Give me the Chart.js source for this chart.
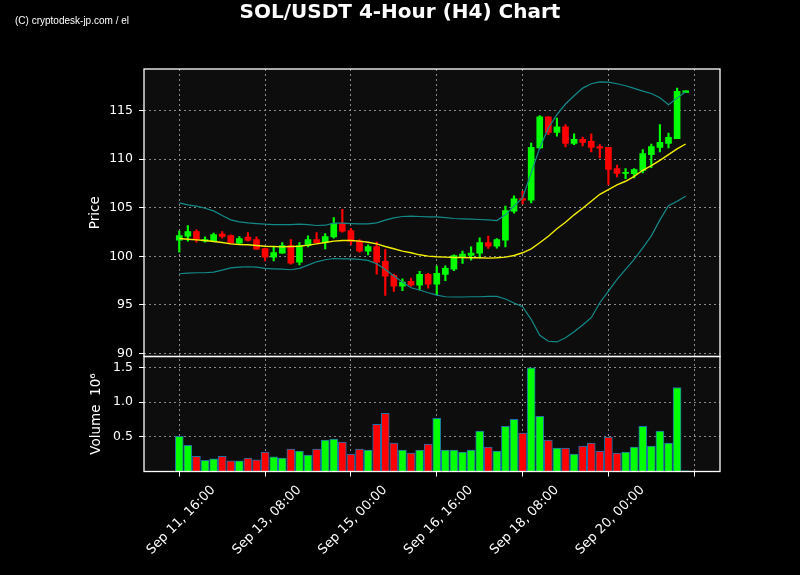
<!DOCTYPE html>
<html>
<head>
<meta charset="utf-8">
<title>SOL/USDT 4-Hour (H4) Chart</title>
<script src="https://cdn.jsdelivr.net/npm/chart.js@4.4.0/dist/chart.umd.min.js"></script>
<style>
  body { margin: 0; background: #000; }
  #wrap { position: relative; width: 800px; height: 575px; }
  #title { position: absolute; left: 0; top: 0; width: 800px; text-align: center; font: bold 20px "DejaVu Sans", sans-serif; color: #fff; line-height: 23px; }
  #mark { position: absolute; left: 15px; top: 14px; font: 11.5px "Liberation Sans Narrow", "Liberation Sans", sans-serif; color: #fff; transform: scaleX(0.87); transform-origin: left top; }
</style>
</head>
<body>
<div id="wrap">
  <canvas id="chart" width="800" height="575"></canvas>
  <div id="title">SOL/USDT 4-Hour (H4) Chart</div>
  <div id="mark">(C) cryptodesk-jp.com / el</div>
</div>
<script>
// 4h candles, Sep 11 16:00 -> Sep 21 12:00 (index 0..59)
const open = [101.66, 102.07, 102.55, 101.56, 101.59, 102.28, 102.14, 101.35, 101.97, 101.73,
  100.80, 99.91, 100.32, 101.11, 99.40, 101.08, 101.73, 101.39, 102.00, 103.37,
  102.65, 101.56, 100.53, 101.01, 99.47, 98.03, 96.93, 97.41, 97.03, 98.13,
  97.13, 98.13, 98.68, 99.98, 100.08, 100.32, 101.42, 101.04, 101.66, 104.64,
  105.95, 105.78, 111.16, 114.38, 112.77, 113.35, 111.64, 112.05, 111.85, 111.30,
  111.23, 109.03, 108.55, 108.52, 108.86, 110.47, 111.23, 111.64, 112.12, 116.89];
const close = [102.14, 102.55, 101.73, 101.73, 102.24, 102.04, 101.35, 101.83, 101.63, 100.73,
  99.91, 100.39, 101.11, 99.29, 101.11, 101.73, 101.39, 102.04, 103.37, 102.59,
  101.56, 100.53, 101.01, 99.40, 97.96, 96.93, 97.34, 97.03, 98.13, 97.13,
  98.23, 98.75, 100.08, 100.22, 100.32, 101.42, 101.04, 101.73, 104.71, 105.91,
  105.78, 111.23, 114.38, 112.77, 113.35, 111.64, 112.05, 111.74, 111.23, 111.13,
  108.96, 108.55, 108.66, 108.93, 110.58, 111.30, 111.74, 112.26, 116.99, 117.06];
const high = [102.59, 103.17, 102.72, 102.00, 102.38, 102.55, 102.21, 102.04, 102.45, 102.00,
  100.84, 100.94, 101.42, 101.73, 101.42, 102.11, 102.45, 102.35, 103.99, 104.85,
  102.89, 101.73, 101.18, 101.45, 100.70, 98.16, 97.68, 97.75, 98.44, 98.23,
  98.99, 99.02, 100.15, 100.53, 100.97, 101.90, 102.07, 101.83, 105.16, 106.22,
  106.70, 111.67, 114.49, 114.38, 114.25, 113.56, 112.63, 112.29, 112.63, 111.50,
  111.23, 109.41, 109.03, 109.03, 110.99, 111.57, 113.56, 112.70, 117.33, 117.06];
const low = [100.43, 101.56, 101.45, 101.45, 101.52, 101.87, 101.28, 101.28, 101.56, 100.70,
  99.53, 99.53, 100.29, 99.19, 99.12, 100.97, 101.32, 100.77, 101.87, 102.48,
  101.18, 100.43, 100.15, 98.16, 95.97, 96.38, 96.45, 96.93, 96.52, 96.72,
  96.04, 97.48, 98.51, 99.26, 99.60, 99.81, 100.80, 100.84, 100.97, 104.44,
  105.40, 105.50, 111.10, 112.53, 112.39, 111.26, 111.50, 111.37, 110.75, 110.13,
  107.39, 108.18, 108.00, 108.07, 108.59, 109.14, 110.75, 111.16, 112.12, 116.89];
// volume in millions
const volume = [0.505, 0.376, 0.219, 0.162, 0.181, 0.219, 0.152, 0.152, 0.195, 0.167,
  0.281, 0.210, 0.195, 0.324, 0.295, 0.238, 0.324, 0.452, 0.467, 0.424,
  0.252, 0.324, 0.310, 0.681, 0.838, 0.410, 0.310, 0.267, 0.310, 0.395,
  0.767, 0.310, 0.310, 0.281, 0.310, 0.581, 0.352, 0.295, 0.652, 0.752,
  0.552, 1.495, 0.795, 0.452, 0.338, 0.338, 0.252, 0.367, 0.410, 0.295,
  0.495, 0.267, 0.281, 0.352, 0.652, 0.367, 0.581, 0.410, 1.210, 0.010];
// moving average + bollinger bands
const sma = [101.83, 101.76, 101.69, 101.63, 101.52, 101.42, 101.28, 101.21, 101.18, 101.11,
  101.04, 101.01, 100.97, 101.01, 101.04, 101.15, 101.28, 101.42, 101.56, 101.63,
  101.63, 101.56, 101.45, 101.28, 101.01, 100.77, 100.53, 100.36, 100.15, 100.01,
  99.95, 99.91, 99.88, 99.88, 99.84, 99.84, 99.81, 99.84, 99.91, 100.08,
  100.36, 100.77, 101.39, 102.07, 102.83, 103.51, 104.27, 104.95, 105.67, 106.39,
  106.87, 107.35, 107.73, 108.24, 108.86, 109.34, 109.89, 110.47, 111.06, 111.57];
const upperBand = [105.50, 105.30, 105.16, 104.95, 104.68, 104.20, 103.75, 103.55, 103.44, 103.37,
  103.31, 103.27, 103.27, 103.27, 103.31, 103.27, 103.17, 103.20, 103.41, 103.41,
  103.37, 103.34, 103.34, 103.44, 103.72, 103.96, 104.10, 104.13, 104.10, 104.06,
  104.06, 103.99, 103.89, 103.86, 103.82, 103.79, 103.75, 103.68, 104.27, 105.16,
  106.02, 108.59, 111.16, 113.22, 114.59, 115.69, 116.54, 117.33, 117.78, 117.98,
  117.95, 117.78, 117.57, 117.30, 117.02, 116.78, 116.34, 115.62, 116.30, 116.95];
const lowerBand = [98.20, 98.26, 98.30, 98.30, 98.37, 98.57, 98.81, 98.88, 98.92, 98.88,
  98.75, 98.71, 98.68, 98.61, 98.75, 99.09, 99.43, 99.64, 99.77, 99.74,
  99.74, 99.67, 99.57, 99.23, 98.64, 97.96, 97.34, 96.76, 96.52, 96.24,
  96.00, 95.83, 95.80, 95.80, 95.83, 95.83, 95.86, 95.86, 95.60, 95.18,
  94.80, 93.50, 91.85, 91.24, 91.17, 91.61, 92.23, 92.92, 93.67, 95.21,
  96.41, 97.61, 98.64, 99.67, 100.87, 102.10, 103.75, 105.20, 105.67, 106.19];

const xTickPos = [0, 10, 20, 30, 40, 50, 60];
const xTickLabels = ['Sep 11, 16:00', 'Sep 13, 08:00', 'Sep 15, 00:00', 'Sep 16, 16:00', 'Sep 18, 08:00', 'Sep 20, 00:00', ''];
const priceTicks = [90, 95, 100, 105, 110, 115];
const volTicks = [0.5, 1.0, 1.5];

const GREEN = '#00ff00';
const RED = '#ff0000';
const colors = open.map((o, i) => close[i] >= o ? GREEN : RED);
const pts = arr => arr.map((v, i) => ({ x: i, y: v }));

const TICK_FONT = { family: 'DejaVu Sans', size: 12.5 };
const TITLE_FONT = { family: 'DejaVu Sans', size: 13.5 };
const GRID = { color: 'rgba(160,160,160,0.85)', tickColor: '#fff', tickLength: 5, lineWidth: 1, offset: false };

// dark plot background + white frames around both panels
const panelFrame = {
  id: 'panelFrame',
  beforeDraw(chart) {
    const { ctx, chartArea: a } = chart;
    ctx.save();
    ctx.fillStyle = '#0d0d0d';
    ctx.fillRect(a.left, a.top, a.width, a.height);
    ctx.restore();
  },
  afterDraw(chart) {
    const { ctx, chartArea: a, scales } = chart;
    ctx.save();
    ctx.strokeStyle = '#fff';
    ctx.lineWidth = 1.3;
    [scales.y, scales.yVol].forEach(s => ctx.strokeRect(a.left, s.top, a.width, s.bottom - s.top));
    ctx.restore();
  }
};

new Chart(document.getElementById('chart'), {
  type: 'bar',
  data: {
    datasets: [
      { type: 'line', label: 'SMA', data: pts(sma), borderColor: '#f2ee00', borderWidth: 1.4, pointRadius: 0, tension: 0, yAxisID: 'y', order: 0 },
      { type: 'line', label: 'Upper', data: pts(upperBand), borderColor: '#138a8a', borderWidth: 1.2, pointRadius: 0, tension: 0, yAxisID: 'y', order: 0 },
      { type: 'line', label: 'Lower', data: pts(lowerBand), borderColor: '#138a8a', borderWidth: 1.2, pointRadius: 0, tension: 0, yAxisID: 'y', order: 0 },
      { label: 'Body', data: open.map((o, i) => ({ x: i, y: [o, close[i]] })), backgroundColor: colors, borderWidth: 0, barThickness: 6, grouped: false, yAxisID: 'y', order: 1 },
      { label: 'Wick', data: low.map((l, i) => ({ x: i, y: [l, high[i]] })), backgroundColor: colors, borderWidth: 0, barThickness: 1.5, grouped: false, yAxisID: 'y', order: 2 },
      { label: 'Volume', data: pts(volume), backgroundColor: colors, borderColor: '#1f6fa8', borderWidth: 1, barThickness: 8, grouped: false, yAxisID: 'yVol', order: 3 }
    ]
  },
  options: {
    responsive: false,
    animation: false,
    layout: { padding: { left: 80, right: 80, top: 69, bottom: 0 } },
    plugins: { legend: { display: false }, tooltip: { enabled: false } },
    scales: {
      x: {
        type: 'linear', offset: false, min: -4.11, max: 63.0,
        afterBuildTicks: s => { s.ticks = xTickPos.map(v => ({ value: v })); },
        afterFit: s => { s.height = 103.5; },
        ticks: {
          color: '#fff', font: { family: 'DejaVu Sans', size: 13 }, minRotation: 45, maxRotation: 45,
          autoSkip: false, padding: 6, labelOffset: 34,
          callback: v => xTickLabels[xTickPos.indexOf(v)] || ''
        },
        grid: GRID,
        border: { display: false, dash: [2, 3] }
      },
      yVol: {
        type: 'linear', position: 'left', stack: 'panels', stackWeight: 1, min: 0, max: 1.657,
        afterBuildTicks: s => { s.ticks = volTicks.map(v => ({ value: v })); },
        afterFit: s => { s.width = 64; },
        ticks: { color: '#fff', font: TICK_FONT, padding: 6, callback: v => v.toFixed(1) },
        grid: GRID,
        border: { display: false, dash: [2, 3] },
        title: { display: true, text: 'Volume  10⁶', color: '#fff', font: TITLE_FONT, padding: { top: 8, bottom: 0 } }
      },
      y: {
        type: 'linear', position: 'left', stack: 'panels', stackWeight: 2.5, min: 89.67, max: 119.3,
        afterBuildTicks: s => { s.ticks = priceTicks.map(v => ({ value: v })); },
        afterFit: s => { s.width = 64; },
        ticks: { color: '#fff', font: TICK_FONT, padding: 6 },
        grid: GRID,
        border: { display: false, dash: [2, 3] },
        title: { display: true, text: 'Price', color: '#fff', font: TITLE_FONT, padding: { top: 7, bottom: 0 } }
      }
    }
  },
  plugins: [panelFrame]
});
</script>
</body>
</html>
